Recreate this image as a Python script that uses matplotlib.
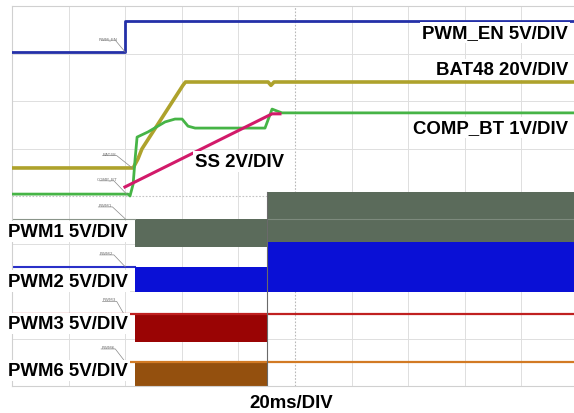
import matplotlib
matplotlib.use("Agg")
import matplotlib.pyplot as plt

# ---------------- data (time in ms, level in screen divisions) ----------------
time_en = [0, 40, 40, 200]
pwm_en = [7.03, 7.03, 7.68, 7.68]

time_bat = [0, 42.8, 44.5, 45.9, 60.4, 61.3, 90.5, 91.5, 92.6, 200]
bat48 = [4.59, 4.59, 4.78, 4.99, 6.33, 6.40, 6.40, 6.33, 6.40, 6.40]

time_comp = [0, 41.0, 41.7, 42.8, 43.5, 44.2, 48.1, 54.1, 57.6, 60.1, 62.2, 64.7,
             89.4, 91.9, 93.6, 95.4, 200]
comp_bt = [4.04, 4.04, 4.00, 4.25, 4.78, 5.24, 5.35, 5.56, 5.62, 5.62, 5.47, 5.43,
           5.43, 5.83, 5.79, 5.75, 5.75]

time_ss = [39.9, 91.9, 94.7]
ss = [4.19, 5.73, 5.73]

# PWM switching envelopes
time_band = [43.5, 90, 90, 200]
pwm1_hi = [3.52, 3.52, 4.08, 4.08]
pwm1_lo = [2.93, 2.93, 3.03, 3.03]
pwm2_hi = [2.51, 2.51, 3.03, 3.03]
pwm2_lo = [1.98, 1.98, 1.98, 1.98]
time_band_short = [43.5, 90]
pwm3_hi = [1.52, 1.52]
pwm3_lo = [0.93, 0.93]
pwm6_hi = [0.51, 0.51]
pwm6_lo = [0.0, 0.0]

# idle levels
time_idle = [0, 43.5]
pwm1_idle = [3.52, 3.52]
pwm2_idle = [2.51, 2.51]
time_full = [0, 200]
pwm3_idle = [1.52, 1.52]
pwm6_idle = [0.51, 0.51]

x_ticks = [0, 20, 40, 60, 80, 100, 120, 140, 160, 180, 200]
y_ticks = [0, 1, 2, 3, 4, 5, 6, 7, 8]

# scope probe markers: (name, text x, text y, pointer x, pointer y)
probe_names = ["PWM_EN", "BAT48", "COMP_BT", "PWM1", "PWM2", "PWM3", "PWM6"]
probe_tx = [34.0, 34.5, 33.5, 33.0, 33.5, 34.5, 34.0]
probe_ty = [7.28, 4.85, 4.32, 3.77, 2.76, 1.78, 0.78]
probe_px = [40.0, 42.5, 40.5, 40.0, 40.0, 39.5, 40.0]
probe_py = [7.03, 4.59, 4.04, 3.52, 2.51, 1.52, 0.51]

# ---------------- figure ----------------
W, H = 574, 414
fig = plt.figure(figsize=(W / 100, H / 100), dpi=100)
fig.patch.set_facecolor("white")
ax = fig.add_axes([12 / W, 27 / H, 566 / W, 380 / H])
ax.set_xlim(0, 200)
ax.set_ylim(0, 8)
ax.set_facecolor("white")

for xv in x_ticks:
    if xv == 100:
        ax.axvline(xv, color="#b8b8b8", lw=0.8, ls=(0, (1.5, 1.5)), zorder=0)
    else:
        ax.axvline(xv, color="#dedede", lw=0.7, zorder=0)
for yv in y_ticks:
    if yv == 4:
        ax.axhline(yv, color="#c4c4c4", lw=0.8, ls=(0, (1.5, 1.5)), zorder=0)
    else:
        ax.axhline(yv, color="#dedede", lw=0.7, zorder=0)
for s in ax.spines.values():
    s.set_color("#d0d0d0")
    s.set_linewidth(0.8)
ax.set_xticks([])
ax.set_yticks([])

# PWM bands
ax.fill_between(time_band, pwm1_lo, pwm1_hi, color="#5b6b5b", lw=0, zorder=2)
ax.fill_between(time_band, pwm2_lo, pwm2_hi, color="#0a10d6", lw=0, zorder=3)
ax.fill_between(time_band_short, pwm3_lo, pwm3_hi, color="#9a0404", lw=0, zorder=2)
ax.fill_between(time_band_short, pwm6_lo, pwm6_hi, color="#94500e", lw=0, zorder=2)
ax.plot(time_band[2:], [pwm1_idle[0]] * 2, color="#7d8a7d", lw=0.8, zorder=3)

ax.plot(time_idle, pwm1_idle, color="#8a948a", lw=0.8, zorder=2)
ax.plot(time_idle, pwm2_idle, color="#2a30c8", lw=1.5, zorder=2)
ax.plot(time_full, pwm3_idle, color="#c02020", lw=1.6, zorder=2)
ax.plot(time_full, pwm6_idle, color="#d27a24", lw=1.6, zorder=2)
ax.plot([90, 90], [0, 4.08], color="#6a6a6a", lw=0.8, zorder=4)

# analog traces
ax.plot(time_en, pwm_en, color="#2430a8", lw=2.0, zorder=5)
ax.plot(time_bat, bat48, color="#aea22c", lw=2.6, zorder=5)
ax.plot(time_comp, comp_bt, color="#46b446", lw=2.0, zorder=6)
ax.plot(time_ss, ss, color="#d21a6a", lw=2.2, zorder=7)

# probe markers
for name, tx, ty, px, py in zip(probe_names, probe_tx, probe_ty, probe_px, probe_py):
    ax.text(tx, ty, name, fontsize=3.2, color="#777777", ha="center", va="bottom",
            zorder=8)
    ax.plot([tx - 2.5, tx + 2.5, px], [ty, ty, py], color="#888888", lw=0.5, zorder=8)

# labels
fnt = dict(family=["Liberation Sans", "DejaVu Sans"], weight="bold", fontsize=13.4,
           color="black", zorder=10)
box = dict(facecolor="white", edgecolor="none", pad=1.5)
ax.text(196.5, 7.45, "PWM_EN 5V/DIV", ha="right", va="center", bbox=box, **fnt)
ax.text(196.5, 6.67, "BAT48 20V/DIV", ha="right", va="center", bbox=box, **fnt)
ax.text(196.5, 5.45, "COMP_BT 1V/DIV", ha="right", va="center", bbox=box, **fnt)
ax.text(64.7, 4.72, "SS 2V/DIV", ha="left", va="center", bbox=box, **fnt)
ax.text(-1.4, 3.26, "PWM1 5V/DIV", ha="left", va="center", bbox=box, clip_on=False, **fnt)
ax.text(-1.4, 2.21, "PWM2 5V/DIV", ha="left", va="center", bbox=box, clip_on=False, **fnt)
ax.text(-1.4, 1.31, "PWM3 5V/DIV", ha="left", va="center", bbox=box, clip_on=False, **fnt)
ax.text(-1.4, 0.32, "PWM6 5V/DIV", ha="left", va="center", bbox=box, clip_on=False, **fnt)
ax.text(98.5, -0.34, "20ms/DIV", ha="center", va="center", clip_on=False, **fnt)

fig.savefig("out.png", dpi=100)
